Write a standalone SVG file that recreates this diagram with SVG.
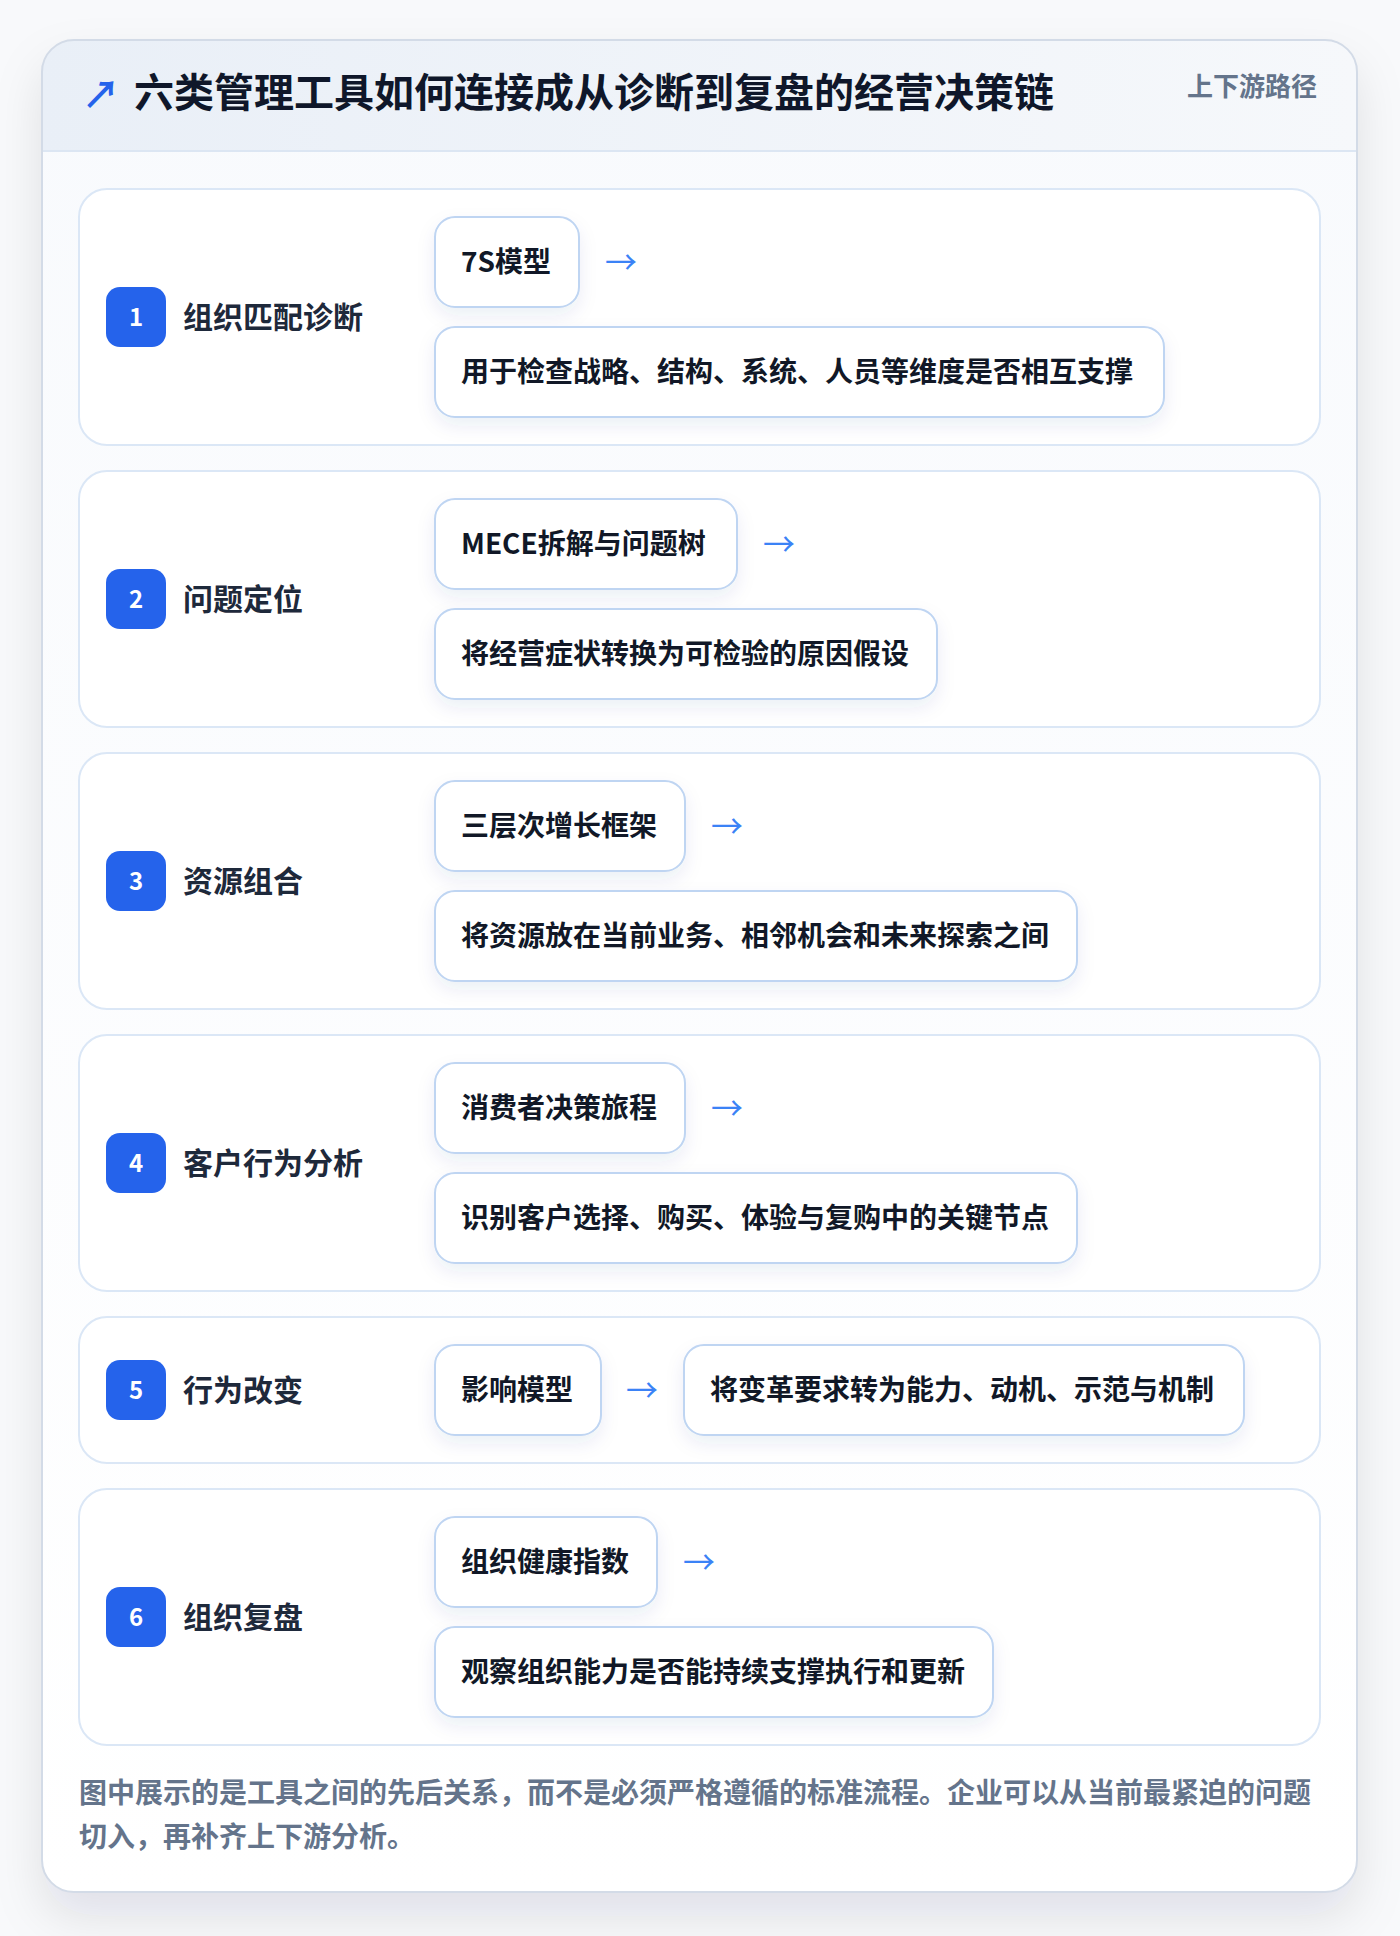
<svg xmlns="http://www.w3.org/2000/svg" width="1400" height="1936" viewBox="0 0 1400 1936">
<defs>
<style>
.t{font-family:"Noto Sans CJK SC","Noto Sans",sans-serif;}
.title{font-size:40px;font-weight:700;fill:#0f172a;}
.tag{font-size:26px;font-weight:600;fill:#64748b;}
.card{fill:#ffffff;stroke:#dbe7f6;stroke-width:2;}
.badge{fill:#2563eb;}
.num{font-size:24px;font-weight:700;fill:#ffffff;}
.label{font-size:30px;font-weight:700;fill:#1e293b;}
.box{fill:#ffffff;stroke:#bfd5f2;stroke-width:2;}
.bt{font-size:28px;font-weight:700;fill:#111827;}
.arr{font-size:32px;fill:#3b82f6;}
.foot{font-size:28px;font-weight:600;fill:#64748b;}
</style>
<linearGradient id="hdr" x1="0" y1="0" x2="1" y2="0">
<stop offset="0" stop-color="#e9eff7"/>
<stop offset="1" stop-color="#f6f8fb"/>
</linearGradient>
<linearGradient id="body" x1="0" y1="0" x2="0" y2="1">
<stop offset="0" stop-color="#f8fafd"/>
<stop offset="1" stop-color="#ffffff"/>
</linearGradient>
<clipPath id="outerClip"><rect x="42" y="40" width="1315" height="1852" rx="32"/></clipPath>
<filter id="sh" x="-10%" y="-10%" width="120%" height="130%">
<feDropShadow dx="0" dy="24" stdDeviation="24" flood-color="#0f172a" flood-opacity="0.10"/>
</filter>
<filter id="bsh" x="-20%" y="-30%" width="140%" height="180%">
<feDropShadow dx="0" dy="8" stdDeviation="9" flood-color="#1e3a8a" flood-opacity="0.08"/>
</filter>
</defs>
<rect x="0" y="0" width="1400" height="1936" fill="#f8f9fb"/>
<g id="frame">
<rect x="42" y="40" width="1315" height="1852" rx="32" fill="#ffffff" filter="url(#sh)"/>
<g clip-path="url(#outerClip)">
<rect x="42" y="40" width="1315" height="1852" fill="url(#body)"/>
<rect x="42" y="40" width="1315" height="112" fill="url(#hdr)"/>
<line x1="42" y1="151" x2="1357" y2="151" stroke="#dce6f3" stroke-width="2"/>
</g>
<rect x="42" y="40" width="1315" height="1852" rx="32" fill="none" stroke="#d3dbe7" stroke-width="2"/>
</g>
<g id="header">
<text class="t" x="82" y="108" font-size="38" font-weight="700" fill="#2563eb">↗</text>
<text class="t title" x="134" y="107">六类管理工具如何连接成从诊断到复盘的经营决策链</text>
<text class="t tag" x="1317" y="96" text-anchor="end">上下游路径</text>
</g>
<g id="row1">
<rect class="card" x="79" y="189" width="1241" height="256" rx="28"/>
<rect class="badge" x="106" y="287" width="60" height="60" rx="14"/>
<text class="t num" x="136" y="325.5" text-anchor="middle">1</text>
<text class="t label" x="183" y="327.5">组织匹配诊断</text>
<g id="tool1"><rect class="box" x="435" y="217" width="144" height="90" rx="20" filter="url(#bsh)"/><text class="t bt" x="461" y="272">7S模型</text></g>
<g id="desc1"><rect class="box" x="435" y="327" width="729" height="90" rx="20" filter="url(#bsh)"/><text class="t bt" x="461" y="382">用于检查战略、结构、系统、人员等维度是否相互支撑</text></g>
</g>
<g id="row2">
<rect class="card" x="79" y="471" width="1241" height="256" rx="28"/>
<rect class="badge" x="106" y="569" width="60" height="60" rx="14"/>
<text class="t num" x="136" y="607.5" text-anchor="middle">2</text>
<text class="t label" x="183" y="609.5">问题定位</text>
<g id="tool2"><rect class="box" x="435" y="499" width="302" height="90" rx="20" filter="url(#bsh)"/><text class="t bt" x="461" y="554">MECE拆解与问题树</text></g>
<g id="desc2"><rect class="box" x="435" y="609" width="502" height="90" rx="20" filter="url(#bsh)"/><text class="t bt" x="461" y="664">将经营症状转换为可检验的原因假设</text></g>
</g>
<g id="row3">
<rect class="card" x="79" y="753" width="1241" height="256" rx="28"/>
<rect class="badge" x="106" y="851" width="60" height="60" rx="14"/>
<text class="t num" x="136" y="889.5" text-anchor="middle">3</text>
<text class="t label" x="183" y="891.5">资源组合</text>
<g id="tool3"><rect class="box" x="435" y="781" width="250" height="90" rx="20" filter="url(#bsh)"/><text class="t bt" x="461" y="836">三层次增长框架</text></g>
<g id="desc3"><rect class="box" x="435" y="891" width="642" height="90" rx="20" filter="url(#bsh)"/><text class="t bt" x="461" y="946">将资源放在当前业务、相邻机会和未来探索之间</text></g>
</g>
<g id="row4">
<rect class="card" x="79" y="1035" width="1241" height="256" rx="28"/>
<rect class="badge" x="106" y="1133" width="60" height="60" rx="14"/>
<text class="t num" x="136" y="1171.5" text-anchor="middle">4</text>
<text class="t label" x="183" y="1173.5">客户行为分析</text>
<g id="tool4"><rect class="box" x="435" y="1063" width="250" height="90" rx="20" filter="url(#bsh)"/><text class="t bt" x="461" y="1118">消费者决策旅程</text></g>
<g id="desc4"><rect class="box" x="435" y="1173" width="642" height="90" rx="20" filter="url(#bsh)"/><text class="t bt" x="461" y="1228">识别客户选择、购买、体验与复购中的关键节点</text></g>
</g>
<g id="row5">
<rect class="card" x="79" y="1317" width="1241" height="146" rx="28"/>
<rect class="badge" x="106" y="1360" width="60" height="60" rx="14"/>
<text class="t num" x="136" y="1398.5" text-anchor="middle">5</text>
<text class="t label" x="183" y="1400.5">行为改变</text>
<g id="tool5"><rect class="box" x="435" y="1345" width="166" height="90" rx="20" filter="url(#bsh)"/><text class="t bt" x="461" y="1400">影响模型</text></g>
<g id="desc5"><rect class="box" x="684" y="1345" width="560" height="90" rx="20" filter="url(#bsh)"/><text class="t bt" x="710" y="1400">将变革要求转为能力、动机、示范与机制</text></g>
</g>
<g id="row6">
<rect class="card" x="79" y="1489" width="1241" height="256" rx="28"/>
<rect class="badge" x="106" y="1587" width="60" height="60" rx="14"/>
<text class="t num" x="136" y="1625.5" text-anchor="middle">6</text>
<text class="t label" x="183" y="1627.5">组织复盘</text>
<g id="tool6"><rect class="box" x="435" y="1517" width="222" height="90" rx="20" filter="url(#bsh)"/><text class="t bt" x="461" y="1572">组织健康指数</text></g>
<g id="desc6"><rect class="box" x="435" y="1627" width="558" height="90" rx="20" filter="url(#bsh)"/><text class="t bt" x="461" y="1682">观察组织能力是否能持续支撑执行和更新</text></g>
</g>
<g id="connectors">
<text class="t arr" x="605" y="274">→</text>
<text class="t arr" x="763" y="556">→</text>
<text class="t arr" x="711" y="838">→</text>
<text class="t arr" x="711" y="1120">→</text>
<text class="t arr" x="626" y="1402">→</text>
<text class="t arr" x="683" y="1574">→</text>
</g>
<g id="footer">
<text class="t foot" x="79" y="1803">图中展示的是工具之间的先后关系，而不是必须严格遵循的标准流程。企业可以从当前最紧迫的问题</text>
<text class="t foot" x="79" y="1847">切入，再补齐上下游分析。</text>
</g>
</svg>
